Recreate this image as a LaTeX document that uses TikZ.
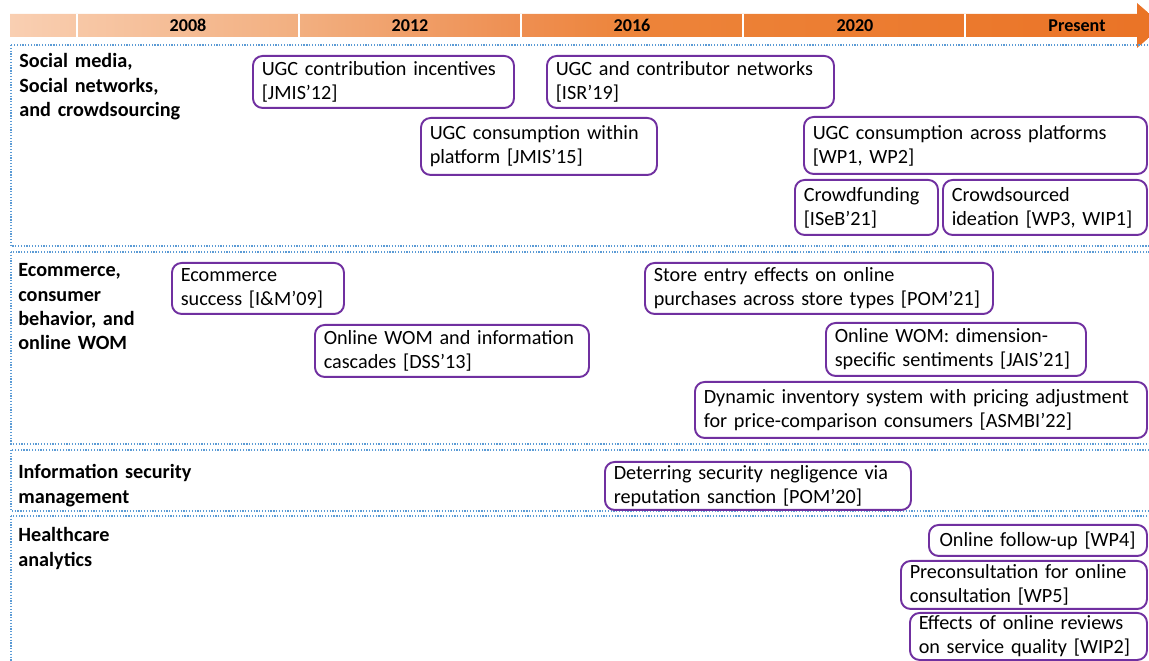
\documentclass[tikz,border=0pt]{standalone}
\usepackage{fontspec}
\setmainfont{Carlito}
\definecolor{pubpurple}{RGB}{112,48,160}
\definecolor{secblue}{RGB}{91,155,213}
\definecolor{barA}{RGB}{249,207,178}
\definecolor{barB}{RGB}{242,175,128}
\definecolor{barC}{RGB}{238,143,82}
\definecolor{barD}{RGB}{237,132,58}
\definecolor{barE}{RGB}{234,115,38}
\pgfdeclarehorizontalshading{timebar}{100bp}{color(0bp)=(barA); color(25bp)=(barA); color(37.6bp)=(barB);
  color(47bp)=(barC); color(52bp)=(barD); color(75bp)=(barE); color(100bp)=(barE)}
\tikzset{
  paper/.style 2 args={draw=pubpurple, line width=1.1pt, rounded corners=5.5pt, anchor=north west, align=left,
    inner xsep=5pt, inner ysep=0pt, text width=#1*0.02cm-10pt, minimum height=#2*0.02cm,
    font=\fontsize{11.5}{13.6}\selectfont},
  topic/.style={anchor=base west, align=left, inner sep=0pt, text width=4cm, font=\bfseries\fontsize{11.5}{13.7}\selectfont},
  yearlbl/.style={font=\bfseries\fontsize{10.3}{12}\selectfont, inner sep=0pt},
  sectionbox/.style={draw=secblue, line width=0.7pt, dash pattern=on 0.7pt off 0.9pt},
  yeardiv/.style={draw=white, line width=0.9pt}
}
\begin{document}
\begin{tikzpicture}[x=0.02cm,y=-0.02cm]
\useasboundingbox (0,0) rectangle (1149,661);
\shade[shading=timebar]
  (10,14) -- (1137,14) -- (1137,3) -- (1163,25.5) -- (1137,48) -- (1137,37) -- (10,37) -- cycle;
\foreach \xd in {77,299,521,743,965}
  \draw[yeardiv] (\xd,14) -- (\xd,37);
\node[yearlbl] (y2008) at (188,25.5) {2008};
\node[yearlbl] (y2012) at (410,25.5) {2012};
\node[yearlbl] (y2016) at (632,25.5) {2016};
\node[yearlbl] (y2020) at (855,25.5) {2020};
\node[yearlbl] (yNow) at (1077,25.5) {Present};

\draw[sectionbox] (11,45) rectangle (1160,246);
\draw[sectionbox] (11,252) rectangle (1160,444);
\draw[sectionbox] (11,450) rectangle (1160,511);
\draw[sectionbox] (11,516) rectangle (1160,680);

\node[topic] (hdSocial) at (19,68) {Social media,\\ Social networks,\\ and crowdsourcing};
\node[topic] (hdEcom) at (18,277) {Ecommerce,\\ consumer\\ behavior, and\\ online WOM};
\node[topic] (hdSecurity) at (18,479) {Information security\\ management};
\node[topic] (hdHealth) at (18,542) {Healthcare\\ analytics};

\node[paper={261}{52}] (ugcInc) at (252,55) {UGC contribution incentives\\ {[}JMIS’12]};
\node[paper={287}{52}] (ugcNet) at (546,55) {UGC and contributor networks\\ {[}ISR’19]};
\node[paper={236}{57}] (ugcWithin) at (420,117) {UGC consumption within\\ platform [JMIS’15]};
\node[paper={343}{57}] (ugcAcross) at (803,116) {UGC consumption across platforms\\ {[}WP1, WP2]};
\node[paper={143}{55}] (crowdFund) at (794,179) {Crowdfunding\\ {[}ISeB’21]};
\node[paper={204}{55}] (crowdIdea) at (942,179) {Crowdsourced\\ ideation [WP3, WIP1]};

\node[paper={172}{51}] (ecomSucc) at (171,262) {Ecommerce\\ success [I\&M’09]};
\node[paper={348}{51}] (storeEntry) at (644,262) {Store entry effects on online\\ purchases across store types [POM’21]};
\node[paper={274}{52}] (womCascade) at (314,324) {Online WOM and information\\ cascades [DSS’13]};
\node[paper={260}{53}] (womSent) at (825,322) {Online WOM: dimension-\\ specific sentiments [JAIS’21]};
\node[paper={452}{56}] (dynInv) at (694,381) {Dynamic inventory system with pricing adjustment\\ for price-comparison consumers [ASMBI’22]};

\node[paper={306}{48}] (secNeg) at (604,461) {Deterring security negligence via\\ reputation sanction [POM’20]};

\node[paper={218}{31}] (hcFollow) at (928,524) {\hspace{1pt}Online follow-up [WP4]};
\node[paper={246}{48}] (hcPrecons) at (900,560) {Preconsultation for online\\ consultation [WP5]};
\node[paper={237}{47}] (hcReviews) at (909,612) {Effects of online reviews\\ on service quality [WIP2]};
\end{tikzpicture}
\end{document}
